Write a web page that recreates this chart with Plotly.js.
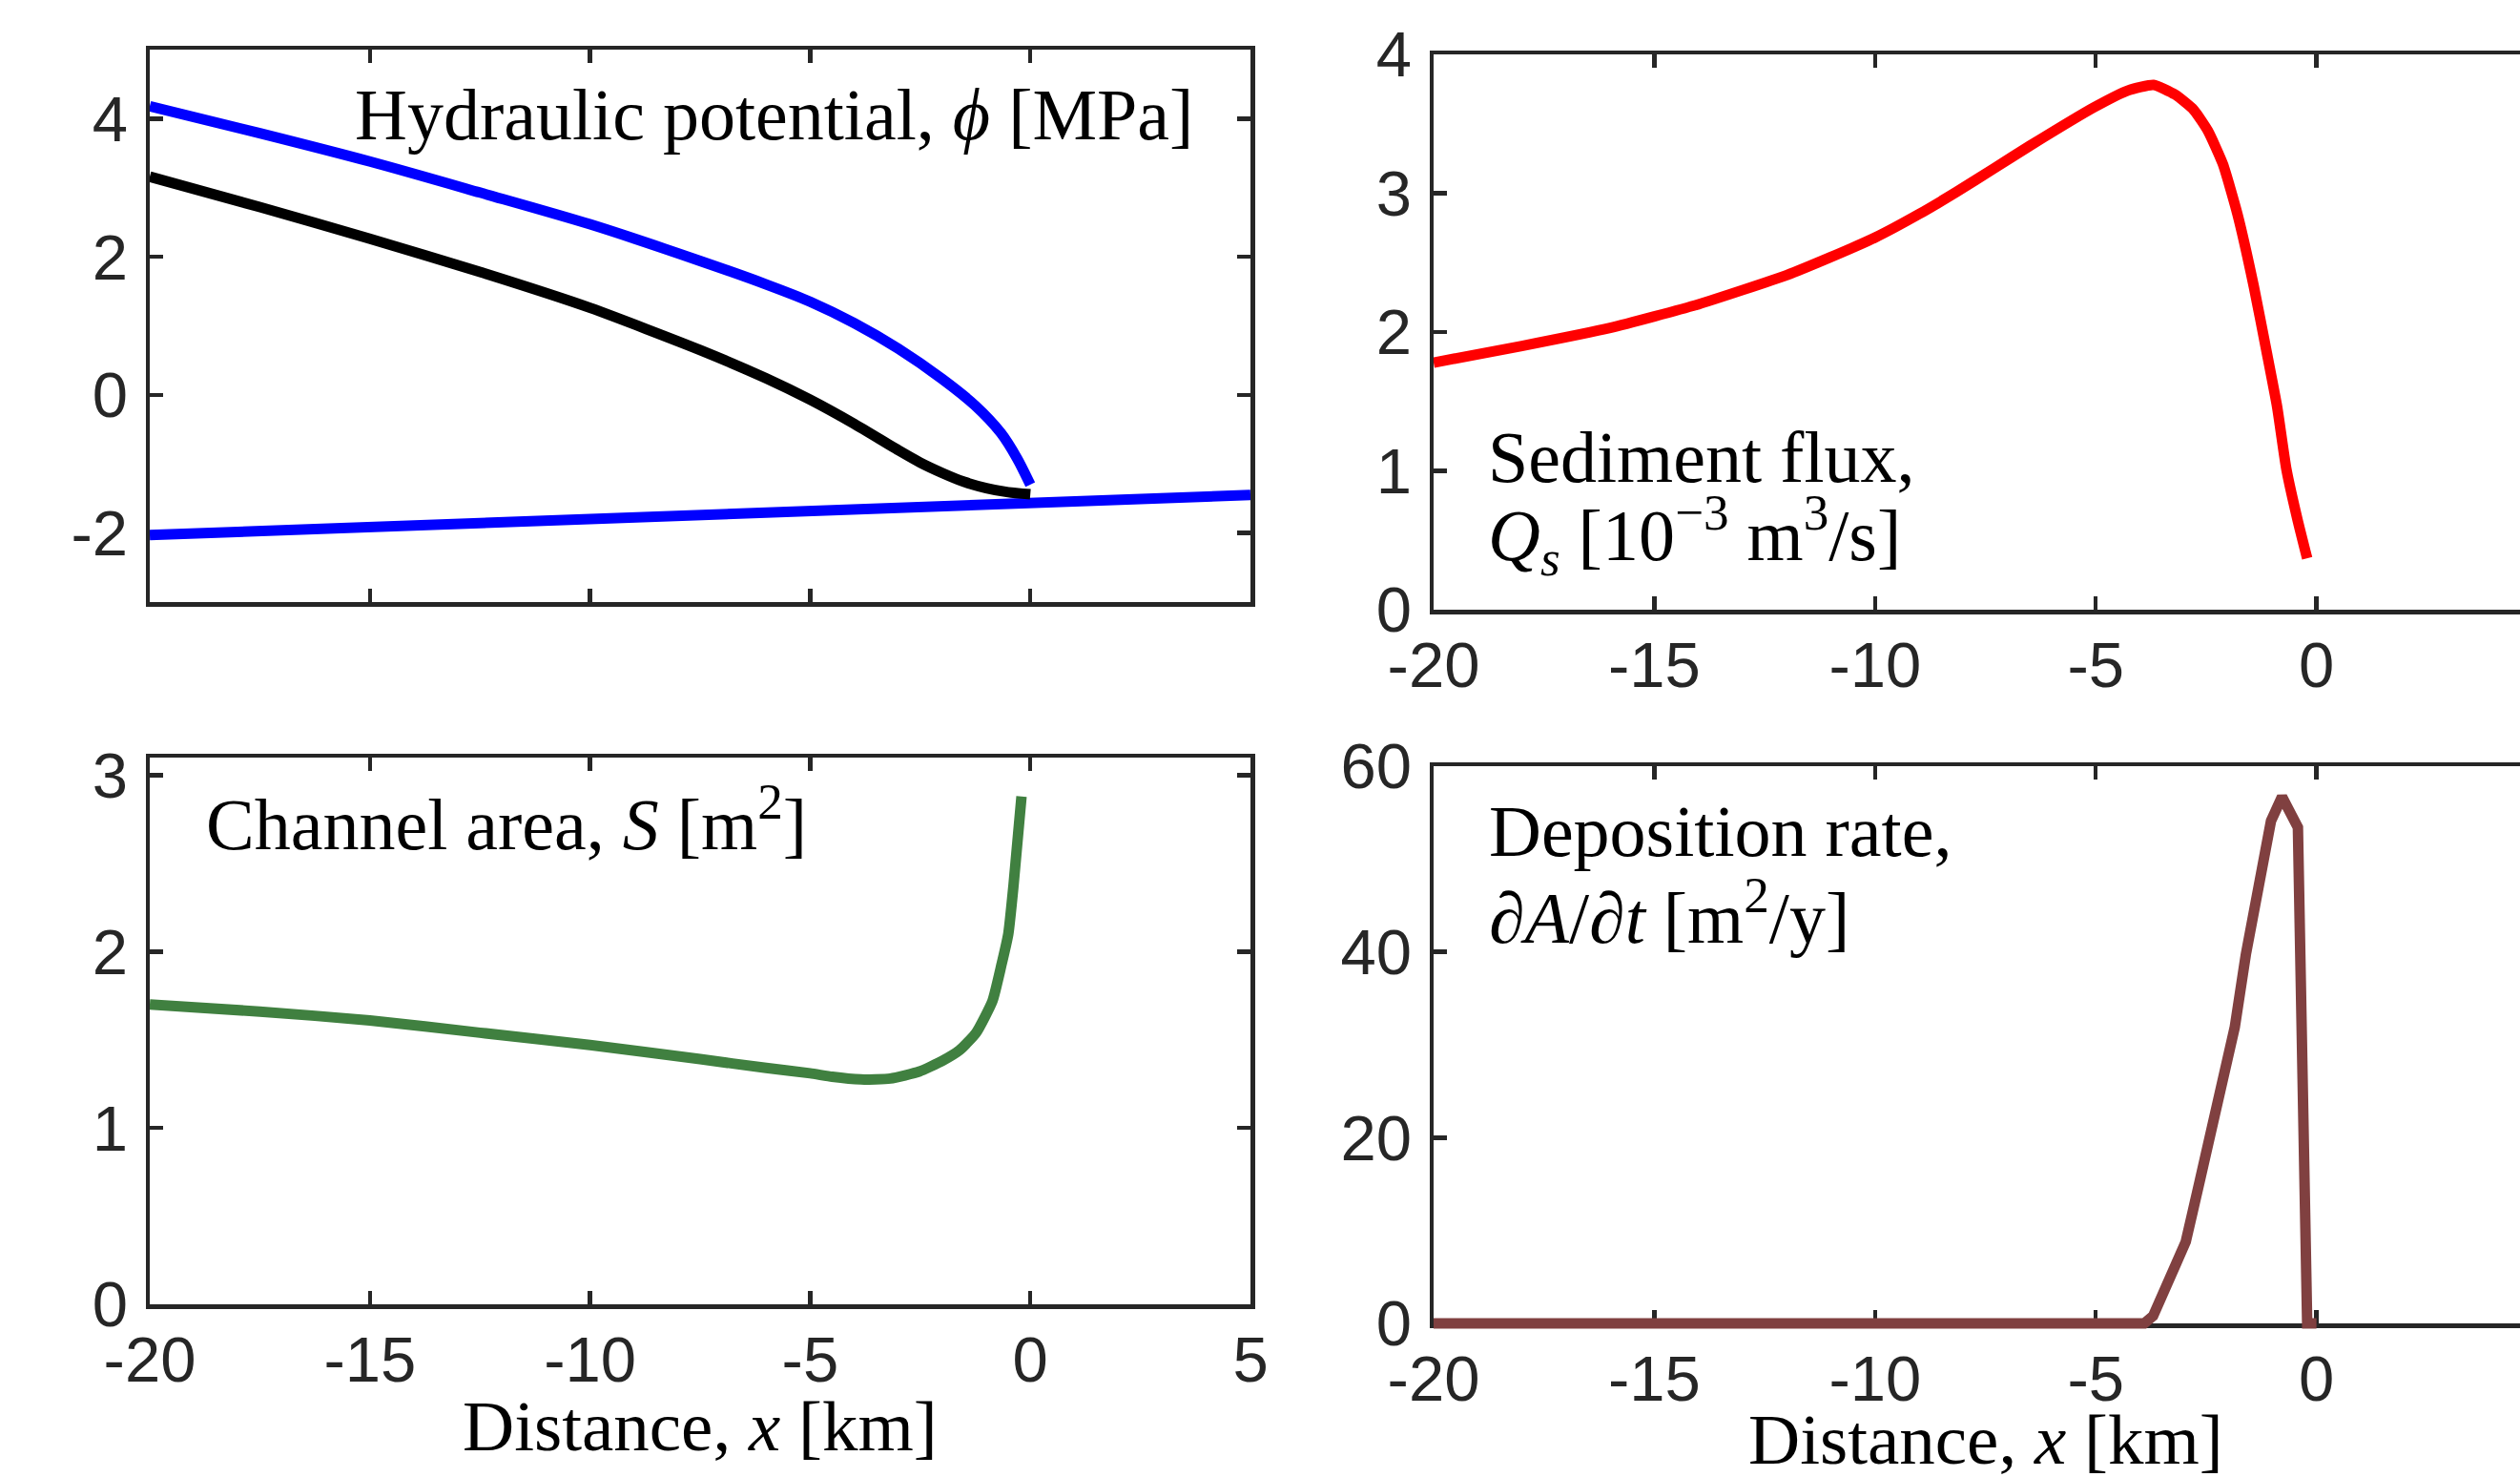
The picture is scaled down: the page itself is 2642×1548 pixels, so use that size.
<!DOCTYPE html>
<html><head><meta charset="utf-8">
<script src="https://cdn.plot.ly/plotly-3.0.1.min.js"></script>
<style>html,body{margin:0;padding:0;overflow:hidden;background:#fff;width:2642px;height:1548px}#chart{width:2680px;height:1548px}</style>
</head><body><div id="chart"></div><script>
// ---- Panel (a): hydraulic potential [MPa]
const phiUpperX = [-20, -17.5, -15, -12.5, -10, -7.5, -6, -5, -4, -3, -2, -1.26, -0.67, -0.30, 0];
const phiUpperY = [4.18, 3.79, 3.38, 2.93, 2.47, 1.94, 1.60, 1.35, 1.04, 0.67, 0.23, -0.15, -0.55, -0.92, -1.30];
const phiMidX = [-20, -17.5, -15, -12.5, -10, -7.5, -6, -5, -4, -3, -2.5, -2, -1.5, -1, -0.5, 0];
const phiMidY = [3.16, 2.72, 2.26, 1.78, 1.26, 0.65, 0.24, -0.07, -0.42, -0.80, -0.98, -1.13, -1.26, -1.35, -1.41, -1.44];
const phiLowX = [-20, 5];
const phiLowY = [-2.03, -1.45];
// ---- Panel (b): sediment flux [1e-3 m^3/s]
const qsX = [-20, -18, -16, -14, -12, -11, -10, -9, -8.15, -7.3, -6.5, -5.03, -4.27, -3.69, -3.2, -2.78, -2.46, -2.12, -1.79, -1.42, -1.13, -0.89, -0.68, -0.43, -0.21];
const qsY = [1.78, 1.90, 2.03, 2.20, 2.41, 2.54, 2.68, 2.85, 3.01, 3.18, 3.34, 3.62, 3.74, 3.78, 3.71, 3.60, 3.45, 3.21, 2.85, 2.33, 1.86, 1.46, 1.01, 0.65, 0.37];
// ---- Panel (c): channel area [m^2]
const sX = [-20, -17.5, -15, -12.5, -10, -7.5, -6, -5, -4.5, -3.85, -3.18, -2.52, -2.0, -1.61, -1.23, -0.86, -0.66, -0.5, -0.38, -0.2];
const sY = [1.70, 1.66, 1.61, 1.54, 1.47, 1.39, 1.34, 1.31, 1.29, 1.275, 1.28, 1.32, 1.38, 1.44, 1.54, 1.72, 1.92, 2.10, 2.38, 2.88];
// ---- Panel (d): deposition rate [m^2/y]
const dX = [-20, -3.9, -3.7, -3.3, -2.96, -2.64, -2.25, -1.85, -1.6, -1.31, -1.03, -0.78, -0.42, -0.21, 0];
const dY = [0, 0, 0.8, 4.8, 8.8, 15.4, 23.0, 31.9, 39.7, 47.3, 54.1, 56.7, 53.4, 0, 0];
// ---- ticks
const xTicks = [-20, -15, -10, -5, 0, 5];
const xTickText = ['-20', '-15', '-10', '-5', '0', '5'];
const xTicksR = [-20, -15, -10, -5, 0];
const xTickTextR = ['-20', '-15', '-10', '-5', '0'];
const yTicksA = [-2, 0, 2, 4];
const yTickTextA = ['-2', '0', '2', '4'];
const yTicksB = [0, 1, 2, 3, 4];
const yTicksC = [0, 1, 2, 3];
const yTicksD = [0, 20, 40, 60];

const W = 2680, H = 1548;
const dx = (a, b) => [a / W, b / W];
const dy = (t, b) => [1 - b / H, 1 - t / H];
const AX = '#262626';
const serif = 'Liberation Serif, Times New Roman, serif';
const LW = 11;

function ax(extra) {
  return Object.assign({
    showline: true, linecolor: AX, linewidth: 4.5, mirror: 'ticks',
    ticks: 'inside', ticklen: 14, tickwidth: 4.5, tickcolor: AX,
    showgrid: false, zeroline: false, layer: 'below traces', fixedrange: true,
    tickfont: {family: 'Liberation Sans, Arial, Helvetica, sans-serif', size: 67, color: AX},
    automargin: false
  }, extra);
}
const xax = (extra) => ax(Object.assign({ticklabelstandoff: -4}, extra));
const yax = (extra) => ax(Object.assign({ticklabelstandoff: 5}, extra));

// deposition panel geometry: 584 px tall for 0..60; the brown trace is drawn on an
// invisible twin scale whose bottom is 6 px lower so its thick zero line is not clipped
const dTop = 803, dBot = 1387, dPad = 6;
const dUnit = (dBot - dTop) / 60;

const traces = [
  {x: phiLowX, y: phiLowY, xaxis: 'x', yaxis: 'y', mode: 'lines', line: {color: '#0000ff', width: LW}},
  {x: phiMidX, y: phiMidY, xaxis: 'x', yaxis: 'y', mode: 'lines', line: {color: '#000000', width: LW, shape: 'spline', smoothing: 0.6}},
  {x: phiUpperX, y: phiUpperY, xaxis: 'x', yaxis: 'y', mode: 'lines', line: {color: '#0000ff', width: LW, shape: 'spline', smoothing: 0.8}},
  {x: qsX, y: qsY, xaxis: 'x2', yaxis: 'y2', mode: 'lines', line: {color: '#ff0000', width: LW, shape: 'spline', smoothing: 0.5}},
  {x: sX, y: sY, xaxis: 'x3', yaxis: 'y3', mode: 'lines', line: {color: '#408040', width: LW, shape: 'spline', smoothing: 0.5}},
  {x: [], y: [], xaxis: 'x4', yaxis: 'y4', mode: 'lines', hoverinfo: 'skip'},
  {x: dX, y: dY, xaxis: 'x5', yaxis: 'y5', mode: 'lines', line: {color: '#804040', width: LW}}
];

const ann = (text, xpx, ypx, size, anchor) => ({
  text: text, xref: 'paper', yref: 'paper', x: xpx / W, y: 1 - ypx / H,
  xanchor: anchor || 'left', yanchor: 'middle', showarrow: false,
  font: {family: serif, size: size || 76, color: '#000'}
});

const layout = {
  width: W, height: H, margin: {l: 0, r: 0, t: 0, b: 0},
  paper_bgcolor: '#fff', plot_bgcolor: 'rgba(0,0,0,0)', showlegend: false,
  xaxis: xax({domain: dx(157, 1311), range: [-20, 5], anchor: 'y', tickvals: xTicks, ticktext: xTickText, showticklabels: false}),
  yaxis: yax({domain: dy(52, 631), range: [-3, 5], anchor: 'x', tickvals: yTicksA, ticktext: yTickTextA}),
  xaxis2: xax({domain: dx(1503, 2660), range: [-20, 5], anchor: 'y2', tickvals: xTicksR, ticktext: xTickTextR}),
  yaxis2: yax({domain: dy(57, 639), range: [0, 4], anchor: 'x2', tickvals: yTicksB}),
  xaxis3: xax({domain: dx(157, 1311), range: [-20, 5], anchor: 'y3', tickvals: xTicks, ticktext: xTickText}),
  yaxis3: yax({domain: dy(794, 1367), range: [0, 3.1], anchor: 'x3', tickvals: yTicksC}),
  xaxis4: xax({domain: dx(1503, 2660), range: [-20, 5], anchor: 'y4', tickvals: xTicksR, ticktext: xTickTextR}),
  yaxis4: yax({domain: dy(dTop, dBot), range: [0, 60], anchor: 'x4', tickvals: yTicksD}),
  xaxis5: {domain: dx(1503, 2660), range: [-20, 5], anchor: 'y5', visible: false, fixedrange: true},
  yaxis5: {domain: dy(dTop, dBot + dPad), range: [-dPad / dUnit, 60], anchor: 'x5', visible: false, fixedrange: true},
  annotations: [
    ann('Hydraulic potential, <i>ϕ</i> [MPa]', 370, 120),
    ann('Sediment flux,', 1558, 479),
    ann('<i>Q</i><sub><i>s</i></sub> [10<sup>−3</sup> m<sup>3</sup>/s]', 1558, 561),
    ann('Channel area, <i>S</i> [m<sup>2</sup>]', 214, 859),
    ann('Deposition rate,', 1559, 871),
    ann('∂<i>A</i>/∂<i>t</i> [m<sup>2</sup>/y]', 1559, 956),
    ann('Distance, <i>x</i> [km]', 734, 1494, 75, 'center'),
    ann('Distance, <i>x</i> [km]', 2082, 1508, 75, 'center')
  ]
};

Plotly.newPlot('chart', traces, layout, {staticPlot: true, displayModeBar: false});
</script></body></html>
